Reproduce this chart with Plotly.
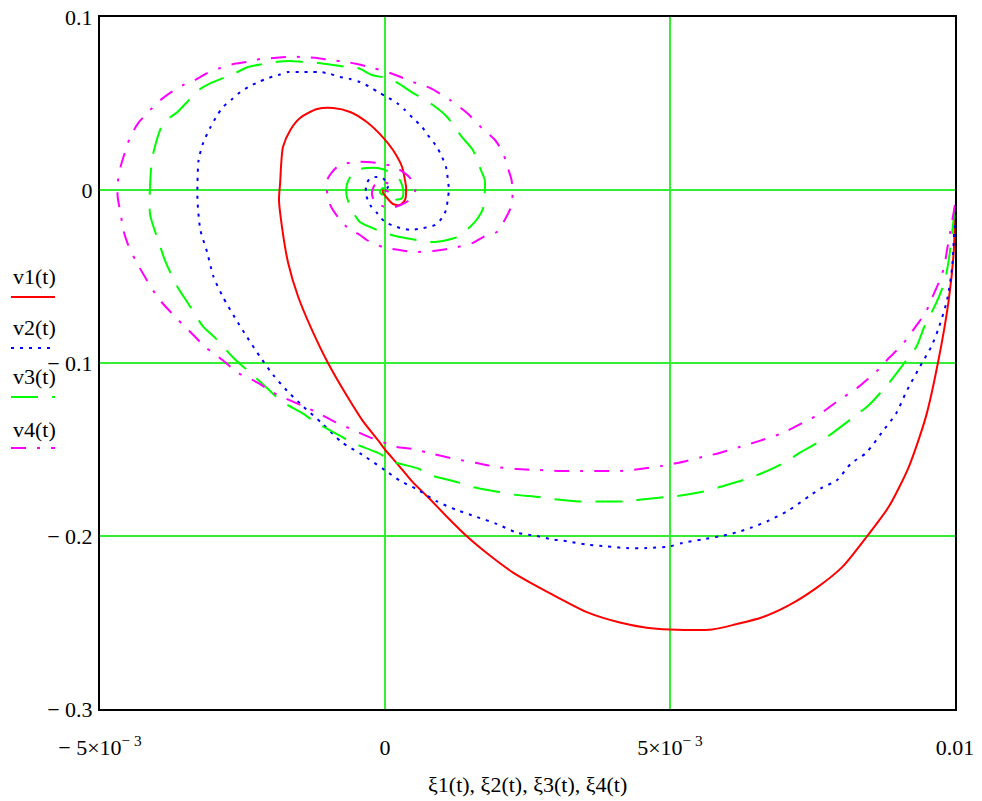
import numpy as np
import plotly.graph_objects as go

# ---------------- data (x values in units of 1e-3) ----------------
xi1_e3 = [10.0, 9.98, 9.89, 9.70, 9.49, 9.19, 8.84, 8.46, 8.02, 7.57,
          7.09, 6.62, 6.16, 5.74, 4.99, 4.59, 4.12, 3.54, 3.06, 2.66,
          2.24, 1.79, 1.45, 1.09, 0.74, 0.49, 0.21, 0.0, -0.09, -0.40,
          -0.65, -1.00, -1.28, -1.52, -1.70, -1.80, -1.86, -1.84, -1.82, -1.79,
          -1.66, -1.49, -1.19, -0.91, -0.61, -0.32, -0.04, 0.14, 0.30, 0.35,
          0.37, 0.35, 0.26, 0.14, 0.035, -0.035, -0.035, 0.035, 0.0]
v1 = [-0.0098, -0.0347, -0.0636, -0.100, -0.131, -0.160, -0.183, -0.200, -0.218, -0.230,
      -0.240, -0.247, -0.251, -0.254, -0.254, -0.253, -0.250, -0.244, -0.236, -0.229,
      -0.221, -0.210, -0.2006, -0.189, -0.177, -0.169, -0.158, -0.150, -0.146, -0.133,
      -0.120, -0.100, -0.081, -0.062, -0.042, -0.023, -0.0058, 0.004, 0.0156, 0.0249,
      0.0347, 0.0416, 0.0468, 0.0474, 0.0451, 0.0393, 0.0306, 0.0231, 0.0133, 0.0058,
      0.0017, -0.0058, -0.0087, -0.0081, -0.0046, -0.0017, 0.0006, -0.0006, 0.0]

xi2_e3 = [10.0, 9.95, 9.86, 9.72, 9.58, 9.42, 9.14, 8.97, 8.72, 8.44,
          8.18, 7.92, 7.67, 7.44, 7.09, 6.74, 6.44, 6.16, 5.90, 5.57,
          5.22, 4.99, 4.59, 4.24, 3.89, 3.54, 3.19, 2.94, 2.66, 2.31,
          1.96, 1.61, 1.26, 0.91, 0.56, 0.26, 0.0, -0.40, -0.75, -1.10,
          -1.44, -1.72, -1.96, -2.19, -2.42, -2.63, -2.84, -3.01, -3.12, -3.24,
          -3.29, -3.29, -3.27, -3.19, -3.06, -2.94, -2.84, -2.68, -2.54, -2.40,
          -2.22, -2.05, -1.87, -1.70, -1.49, -1.31, -1.14, -0.96, -0.79, -0.61,
          -0.44, -0.26, -0.12, 0.035, 0.21, 0.35, 0.49, 0.65, 0.75, 0.91,
          1.00, 1.07, 1.10, 1.12, 1.10, 1.07, 1.00, 0.88, 0.67, 0.44,
          0.21, 0.0, -0.14, -0.26, -0.33, -0.33, -0.26, -0.14, -0.035, 0.05,
          0.0]
v2 = [-0.0098, -0.0445, -0.0636, -0.0792, -0.0908, -0.100, -0.117, -0.129, -0.140, -0.152,
      -0.158, -0.168, -0.172, -0.177, -0.185, -0.191, -0.195, -0.198, -0.200, -0.202,
      -0.204, -0.206, -0.207, -0.207, -0.206, -0.205, -0.203, -0.202, -0.200, -0.198,
      -0.193, -0.189, -0.185, -0.180, -0.173, -0.168, -0.162, -0.153, -0.146, -0.135,
      -0.125, -0.116, -0.107, -0.0965, -0.085, -0.074, -0.062, -0.050, -0.036, -0.023,
      -0.0058, 0.004, 0.0173, 0.0272, 0.0364, 0.0434, 0.048, 0.0526, 0.0566, 0.0595,
      0.0624, 0.0647, 0.0665, 0.0682, 0.0682, 0.0682, 0.0682, 0.0671, 0.0653, 0.0642,
      0.0624, 0.0595, 0.0566, 0.0538, 0.0503, 0.0462, 0.0416, 0.0364, 0.0318, 0.0249,
      0.0191, 0.0133, 0.0069, 0.0, -0.0058, -0.0116, -0.0162, -0.0202, -0.022, -0.0231,
      -0.0214, -0.0185, -0.0133, -0.0087, -0.0029, 0.0029, 0.0069, 0.0075, 0.0069, 0.0017,
      0.0]

xi3_e3 = [10.0, 9.89, 9.81, 9.67, 9.46, 9.32, 9.11, 8.84, 8.49, 8.27,
          7.85, 7.67, 7.27, 7.04, 6.62, 6.34, 5.87, 5.64, 5.13, 4.76,
          4.17, 3.64, 3.42, 2.94, 2.71, 2.24, 2.01, 1.54, 1.28, 0.82,
          0.58, 0.14, -0.12, -0.58, -0.79, -1.23, -1.45, -1.80, -2.07, -2.42,
          -2.63, -2.98, -3.19, -3.47, -3.63, -3.85, -3.94, -4.12, -4.13, -4.12,
          -4.10, -4.06, -3.89, -3.64, -3.47, -3.27, -3.06, -2.84, -2.63, -2.40,
          -2.15, -1.93, -1.66, -1.44, -1.17, -0.91, -0.67, -0.47, -0.23, 0.035,
          0.23, 0.44, 0.84, 1.09, 1.35, 1.54, 1.66, 1.75, 1.75, 1.73,
          1.63, 1.49, 1.26, 1.09, 0.84, 0.56, 0.26, 0.0, -0.26, -0.44,
          -0.58, -0.67, -0.67, -0.61, -0.49, -0.32, -0.12, 0.12, 0.26, 0.32,
          0.30, 0.12, 0.0, -0.09, -0.035, 0.0]
v3 = [-0.0098, -0.0405, -0.0538, -0.0653, -0.0792, -0.0908, -0.100, -0.1116, -0.1243, -0.130,
      -0.1405, -0.1445, -0.152, -0.157, -0.1636, -0.167, -0.1717, -0.174, -0.1769, -0.178,
      -0.180, -0.180, -0.180, -0.1786, -0.1775, -0.176, -0.1746, -0.1717, -0.169, -0.165,
      -0.161, -0.157, -0.152, -0.146, -0.142, -0.134, -0.129, -0.1225, -0.1145, -0.104,
      -0.098, -0.0855, -0.079, -0.0647, -0.0566, -0.0416, -0.033, -0.0145, -0.0058, 0.004,
      0.0133, 0.022, 0.0387, 0.0451, 0.0509, 0.0578, 0.0618, 0.0647, 0.0676, 0.0711,
      0.0728, 0.074, 0.0746, 0.074, 0.0734, 0.0723, 0.0711, 0.0705, 0.0665, 0.0647,
      0.0618, 0.0572, 0.0491, 0.0422, 0.0306, 0.0231, 0.0133, 0.0058, -0.0017, -0.0098,
      -0.0162, -0.0214, -0.0272, -0.0289, -0.0301, -0.0289, -0.0272, -0.0249, -0.0214, -0.0185,
      -0.0116, -0.004, 0.0029, 0.0075, 0.0116, 0.0127, 0.0127, 0.0098, 0.0058, 0.0,
      -0.0046, -0.0058, -0.004, -0.0012, 0.0012, 0.0]

xi4_e3 = [10.0, 9.86, 9.81, 9.72, 9.58, 9.49, 9.33, 9.14, 9.02, 8.84,
          8.62, 8.49, 8.28, 7.92, 7.65, 7.32, 6.97, 6.57, 6.22, 5.87,
          5.57, 5.13, 4.85, 4.47, 4.12, 3.77, 3.42, 3.07, 2.66, 2.31,
          1.96, 1.61, 1.23, 0.84, 0.49, 0.21, 0.05, -0.23, -0.56, -0.88,
          -1.17, -1.40, -1.80, -1.98, -2.22, -2.57, -2.85, -3.15, -3.45, -3.68,
          -3.98, -4.20, -4.38, -4.52, -4.59, -4.64, -4.69, -4.69, -4.64, -4.55,
          -4.47, -4.33, -4.12, -3.98, -3.77, -3.54, -3.33, -3.12, -2.89, -2.66,
          -2.42, -2.19, -1.96, -1.70, -1.44, -1.19, -0.96, -0.67, -0.49, -0.21,
          0.09, 0.23, 0.49, 0.79, 1.14, 1.44, 1.70, 1.93, 2.07, 2.15,
          2.22, 2.24, 2.21, 2.10, 1.96, 1.72, 1.54, 1.19, 0.84, 0.49,
          0.26, -0.035, -0.32, -0.44, -0.67, -0.79, -0.96, -1.02, -1.00, -0.84,
          -0.56, -0.32, -0.14, 0.12, 0.26, 0.44, 0.53, 0.49, 0.35, 0.18,
          0.0, -0.18, -0.23, -0.18, -0.035, 0.09, 0.09, 0.0]
v4 = [-0.0087, -0.0347, -0.0445, -0.0532, -0.0636, -0.0705, -0.078, -0.0867, -0.0913, -0.0971,
      -0.105, -0.1087, -0.1145, -0.1225, -0.129, -0.1347, -0.1405, -0.145, -0.1486, -0.152,
      -0.1543, -0.1578, -0.1595, -0.1613, -0.1624, -0.1624, -0.1624, -0.1624, -0.1618, -0.1613,
      -0.1601, -0.1578, -0.1555, -0.1526, -0.1497, -0.1486, -0.1468, -0.1434, -0.1387, -0.134,
      -0.129, -0.1254, -0.1197, -0.1168, -0.1116, -0.1058, -0.0983, -0.0908, -0.0809, -0.0734,
      -0.0624, -0.0509, -0.0405, -0.0306, -0.0231, -0.0133, -0.004, 0.004, 0.0133, 0.0231,
      0.0306, 0.0387, 0.0462, 0.0509, 0.0561, 0.0607, 0.0636, 0.0676, 0.0705, 0.0728,
      0.074, 0.0757, 0.0763, 0.0769, 0.0769, 0.0763, 0.0751, 0.074, 0.0728, 0.0705,
      0.0676, 0.0659, 0.0624, 0.059, 0.052, 0.0445, 0.0358, 0.0289, 0.0214, 0.0133,
      0.0058, -0.0017, -0.0098, -0.0173, -0.0243, -0.0272, -0.0306, -0.0335, -0.0353, -0.0358,
      -0.0347, -0.033, -0.0289, -0.026, -0.0214, -0.0173, -0.0087, 0.0, 0.0069, 0.0133,
      0.0162, 0.0162, 0.0156, 0.0139, 0.0116, 0.0069, 0.0, -0.004, -0.0075, -0.0098,
      -0.0098, -0.0069, -0.0017, 0.0029, 0.0046, 0.0029, -0.0012, 0.0]

x_tickvals = [-0.005, 0.0, 0.005, 0.01]
x_ticktext = ["\u2212 5\u00d710<sup>\u2212 3</sup>", "0", "5\u00d710<sup>\u2212 3</sup>", "0.01"]
y_tickvals = [0.1, 0.0, -0.1, -0.2, -0.3]
y_ticktext = ["0.1", "0", "\u2212 0.1", "\u2212 0.2", "\u2212 0.3"]
legend_names = ["v1(t)", "v2(t)", "v3(t)", "v4(t)"]
x_title = "\u03be1(t), \u03be2(t), \u03be3(t), \u03be4(t)"

# ---------------- figure ----------------
FONT = "Liberation Serif, Times New Roman, serif"
FS = 22
GRID = "#33ee33"
colors = ["#ff0000", "#0000ff", "#00ff00", "#ff00ff"]
dashes = ["solid", "3px,6px", "27px,14px", "15px,11px,3px,11px"]
xs = [xi1_e3, xi2_e3, xi3_e3, xi4_e3]
ys = [v1, v2, v3, v4]

fig = go.Figure()
for xv, yv, c, d, name in zip(xs, ys, colors, dashes, legend_names):
    fig.add_trace(go.Scatter(
        x=np.array(xv) * 1e-3, y=yv, mode="lines", name=name,
        line=dict(color=c, width=2, dash=d, shape="spline", smoothing=0.7),
        showlegend=False, hoverinfo="skip"))

# plot area: x 100..955, y 17..709
ML, MR, MT, MB = 100, 27, 17, 92
PW = 982 - ML - MR
PH = 801 - MT - MB
def py(pix):
    return (801 - MB - pix) / PH
def px(pix):
    return (pix - ML) / PW

leg_text_y = [276, 327, 376, 429]
leg_line_y = [297, 348, 397, 448]
annotations = []
shapes = []
for name, ty, ly, c, d in zip(legend_names, leg_text_y, leg_line_y, colors, dashes):
    annotations.append(dict(text=name, x=px(11), y=py(ty), xref="paper", yref="paper",
                            xanchor="left", yanchor="middle", showarrow=False,
                            font=dict(family=FONT, size=FS, color="black")))
    shapes.append(dict(type="line", xref="paper", yref="paper",
                       x0=px(11), x1=px(55), y0=py(ly), y1=py(ly),
                       line=dict(color=c, width=2, dash=d)))

annotations.append(dict(text=x_title, x=0.5, y=py(784), xref="paper", yref="paper",
                        xanchor="center", yanchor="middle", showarrow=False,
                        font=dict(family=FONT, size=FS, color="black")))

tickfont = dict(family=FONT, size=FS, color="black")

fig.update_layout(
    width=982, height=801,
    margin=dict(l=ML, r=MR, t=MT, b=MB),
    paper_bgcolor="white", plot_bgcolor="white",
    hovermode=False,
    xaxis=dict(range=[-0.005, 0.01], tickmode="array", tickvals=x_tickvals,
               ticktext=x_ticktext, ticklabelstandoff=18, automargin=False,
               showgrid=True, gridcolor=GRID, gridwidth=1.6, zeroline=False,
               showline=True, mirror=True, linecolor="black", linewidth=2,
               ticks="", tickfont=tickfont),
    yaxis=dict(range=[-0.3, 0.1], tickmode="array", tickvals=y_tickvals,
               ticktext=y_ticktext, ticklabelstandoff=1, automargin=False,
               showgrid=True, gridcolor=GRID, gridwidth=1.6, zeroline=False,
               showline=True, mirror=True, linecolor="black", linewidth=2,
               ticks="", tickfont=tickfont),
    annotations=annotations, shapes=shapes,
)

fig.write_html("out.html", config={"displayModeBar": False},
               post_script="document.body.style.margin='0';document.body.style.overflow='hidden';")
